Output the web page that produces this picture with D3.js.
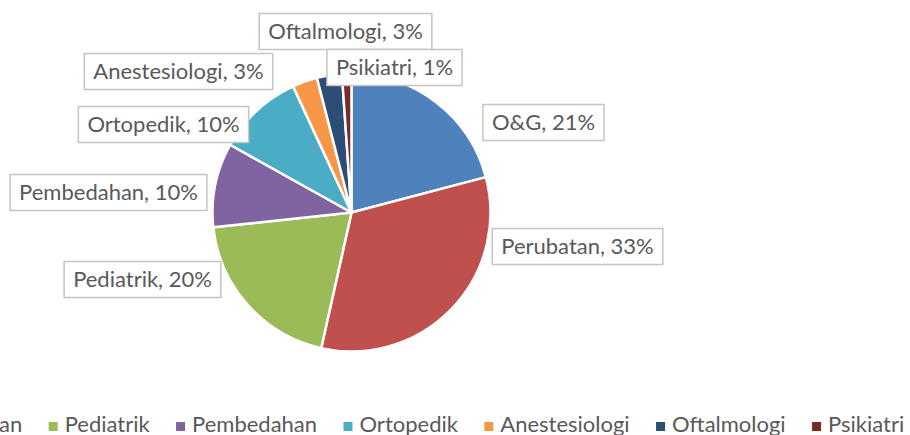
<!DOCTYPE html>
<html>
<head>
<meta charset="utf-8">
<script src="https://cdn.jsdelivr.net/npm/d3@7"></script>
<style>
  html, body { margin: 0; padding: 0; background: #fff; overflow: hidden; }
  svg { display: block; }
  text { font-family: Lato, "Open Sans", sans-serif; fill: #595959; }
</style>
</head>
<body>
<div id="chart"></div>
<script>
// data (share of each department, %)
const categories = ['O&G', 'Perubatan', 'Pediatrik', 'Pembedahan', 'Ortopedik', 'Anestesiologi', 'Oftalmologi', 'Psikiatri']
const values = [20.9, 32.6, 19.8, 9.8, 10.0, 2.9, 2.9, 1.1]
const colors = ['#4F81BD', '#C0504D', '#9BBB59', '#8064A2', '#4BACC6', '#F79646', '#2C4D75', '#772C2A']

// where each data label box sits, relative to the pie centre
const labelOffsets = [[192, -90], [226, 34], [-209, 67], [-243, -20], [-188, -88], [-173, -141], [-6, -181], [43, -145]]

const width = 910
const height = 435
const cx = 351.5, cy = 212.5, radius = 139
const fontSize = 22

const svg = d3.select('#chart').append('svg')
  .attr('width', width)
  .attr('height', height)

const total = d3.sum(values)
const pie = d3.pie().sort(null).value(d => d)
const arcs = pie(values)
const arc = d3.arc().innerRadius(0).outerRadius(radius)

const g = svg.append('g').attr('transform', `translate(${cx},${cy})`)

g.selectAll('path')
  .data(arcs)
  .enter()
  .append('path')
  .attr('d', arc)
  .attr('fill', (d, i) => colors[i])
  .attr('stroke', '#fff')
  .attr('stroke-width', 2.5)
  .attr('stroke-linejoin', 'round')

// data labels in boxes
const labels = g.selectAll('g.lbl')
  .data(arcs)
  .enter()
  .append('g')
  .attr('class', 'lbl')
  .attr('transform', (d, i) => `translate(${labelOffsets[i][0]},${labelOffsets[i][1]})`)

labels.append('rect')
labels.append('text')
  .attr('text-anchor', 'middle')
  .attr('y', fontSize * 0.36)
  .style('font-size', fontSize + 'px')
  .text((d, i) => categories[i] + ', ' + Math.round(d.value / total * 100) + '%')

labels.each(function() {
  const t = d3.select(this).select('text').node()
  const w = t.getComputedTextLength() + 18
  const h = 36
  d3.select(this).select('rect')
    .attr('x', -w / 2).attr('y', -h / 2)
    .attr('width', w).attr('height', h)
    .attr('fill', '#fff')
    .attr('stroke', '#C4C4C4')
    .attr('stroke-width', 1.5)
})

// legend along the bottom, centred (runs off both sides like the original)
const legend = svg.append('g')
const items = legend.selectAll('g')
  .data(categories)
  .enter()
  .append('g')

items.append('rect')
  .attr('width', 9).attr('height', 9)
  .attr('y', 422)
  .attr('fill', (d, i) => colors[i])

items.append('text')
  .attr('x', 16)
  .attr('y', 432)
  .style('font-size', fontSize + 'px')
  .text(d => d)

const gap = 26.4
let xPos = 0
items.each(function() {
  const w = d3.select(this).select('text').node().getComputedTextLength()
  d3.select(this).attr('transform', `translate(${xPos},0)`)
  xPos += 16 + w + gap
})
const legendWidth = xPos - gap
legend.attr('transform', `translate(${360 - legendWidth / 2},0)`)
</script>
</body>
</html>
